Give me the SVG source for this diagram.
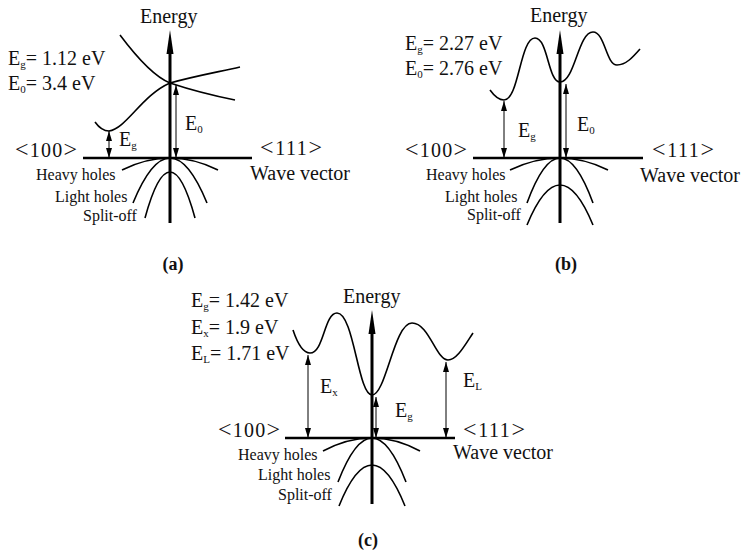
<svg xmlns="http://www.w3.org/2000/svg" width="743" height="553" viewBox="0 0 743 553">
<style>
text{font-family:"Liberation Serif","Times New Roman",serif;fill:#111}
.t{font-size:20px}
.s{font-size:16px}
.sub{font-size:11px}
.br{font-size:24px}
.cap{font-size:18px;font-weight:bold;text-anchor:middle}
.axis{stroke:#000;stroke-width:2.6;fill:none}
.vaxis{stroke:#000;stroke-width:3;fill:none}
.band{stroke:#000;stroke-width:1.6;fill:none}
.gap{stroke:#000;stroke-width:1;fill:none;marker-start:url(#ah);marker-end:url(#ah)}
</style>
<defs>
<marker id="ah" viewBox="0 0 10 6" refX="10" refY="3" markerWidth="10" markerHeight="6" markerUnits="userSpaceOnUse" orient="auto-start-reverse">
<path d="M0,0 L10,3 L0,6 Z" fill="#000"/>
</marker>
<path id="vhead" d="M0,0 L-3.5,24 L3.5,24 Z" fill="#000"/>
</defs>

<g id="panel-a">
  <g id="a-axes">
    <line class="axis" x1="83" y1="158" x2="252" y2="158"/>
    <line class="vaxis" x1="170" y1="50" x2="170" y2="223"/>
    <use href="#vhead" x="170" y="30"/>
  </g>
  <g id="a-bands">
    <path class="band" d="M95,122 C100,129 104,131 109,131 C126,129 142,95 170,83 C195,76 218,72 240,67"/>
    <path class="band" d="M120,35 Q150,75 170,83 Q200,93 235,100"/>
    <path class="band" d="M122,170 Q170,146 218,170"/>
    <path class="band" d="M133,203 Q170,113 207,203"/>
    <path class="band" d="M145,218 Q170,126 195,218"/>
  </g>
  <g id="a-text">
    <text class="t" x="140" y="23">Energy</text>
    <text class="t" x="8" y="65">E<tspan class="sub" dy="3">g</tspan><tspan dy="-3">= 1.12 eV</tspan></text>
    <text class="t" x="8" y="90">E<tspan class="sub" dy="3">0</tspan><tspan dy="-3">= 3.4 eV</tspan></text>
    <text class="t" x="185" y="130">E<tspan class="sub" dy="3">0</tspan></text>
    <text class="t" x="119" y="146">E<tspan class="sub" dy="3">g</tspan></text>
    <text class="t" x="15" y="157" textLength="62"><tspan class="br">&lt;</tspan>100<tspan class="br">&gt;</tspan></text>
    <text class="t" x="260" y="155" textLength="62"><tspan class="br">&lt;</tspan>111<tspan class="br">&gt;</tspan></text>
    <text class="t" x="250" y="180">Wave vector</text>
    <text class="s" x="36" y="180">Heavy holes</text>
    <text class="s" x="55" y="202">Light holes</text>
    <text class="s" x="83" y="221">Split-off</text>
    <text class="cap" x="173" y="270">(a)</text>
  </g>
</g>

<g id="panel-b">
  <g id="b-axes">
    <line class="axis" x1="473" y1="158" x2="643" y2="158"/>
    <line class="vaxis" x1="560" y1="50" x2="560" y2="223"/>
    <use href="#vhead" x="560" y="30"/>
  </g>
  <g id="b-bands">
    <path class="band" d="M490,90 C495,97 499,100 504,100 C519,100 520,38 535,38 C548,38 548,82 560,82 C575,82 578,32 593,32 C605,32 606,65 617,65 C626,65 633,57 640,49"/>
    <path class="band" d="M510,170 Q560,146 608,170"/>
    <path class="band" d="M527,203 Q560,113 593,203"/>
    <path class="band" d="M527,225 Q560,145 593,225"/>
  </g>
  <g id="b-text">
    <text class="t" x="530" y="22">Energy</text>
    <text class="t" x="405" y="50">E<tspan class="sub" dy="3">g</tspan><tspan dy="-3">= 2.27 eV</tspan></text>
    <text class="t" x="405" y="75">E<tspan class="sub" dy="3">0</tspan><tspan dy="-3">= 2.76 eV</tspan></text>
    <text class="t" x="518" y="137">E<tspan class="sub" dy="3">g</tspan></text>
    <text class="t" x="577" y="131">E<tspan class="sub" dy="3">0</tspan></text>
    <text class="t" x="405" y="157" textLength="62"><tspan class="br">&lt;</tspan>100<tspan class="br">&gt;</tspan></text>
    <text class="t" x="652" y="157" textLength="62"><tspan class="br">&lt;</tspan>111<tspan class="br">&gt;</tspan></text>
    <text class="t" x="640" y="182">Wave vector</text>
    <text class="s" x="426" y="180">Heavy holes</text>
    <text class="s" x="445" y="202">Light holes</text>
    <text class="s" x="467" y="220">Split-off</text>
    <text class="cap" x="566" y="270">(b)</text>
  </g>
</g>

<g id="panel-c">
  <g id="c-axes">
    <line class="axis" x1="285" y1="438" x2="455" y2="438"/>
    <line class="vaxis" x1="372" y1="330" x2="372" y2="504"/>
    <use href="#vhead" x="372" y="310"/>
  </g>
  <g id="c-bands">
    <path class="band" d="M293,330 C298,345 303,353 310,353 C324,353 324,313 337,313 C354,313 358,395 372,395 C386,395 394,323 412,323 C429,323 436,360 448,360 C457,360 465,345 473,333"/>
    <path class="band" d="M323,451 Q372,425 420,451"/>
    <path class="band" d="M338,482 Q372,394 406,482"/>
    <path class="band" d="M339,506 Q372,424 405,506"/>
  </g>
  <g id="c-text">
    <text class="t" x="343" y="303">Energy</text>
    <text class="t" x="191" y="307">E<tspan class="sub" dy="3">g</tspan><tspan dy="-3">= 1.42 eV</tspan></text>
    <text class="t" x="191" y="334">E<tspan class="sub" dy="3">x</tspan><tspan dy="-3">= 1.9 eV</tspan></text>
    <text class="t" x="191" y="360">E<tspan class="sub" dy="3">L</tspan><tspan dy="-3">= 1.71 eV</tspan></text>
    <text class="t" x="320" y="393">E<tspan class="sub" dy="3">x</tspan></text>
    <text class="t" x="395" y="417">E<tspan class="sub" dy="3">g</tspan></text>
    <text class="t" x="463" y="387">E<tspan class="sub" dy="3">L</tspan></text>
    <text class="t" x="218" y="437" textLength="62"><tspan class="br">&lt;</tspan>100<tspan class="br">&gt;</tspan></text>
    <text class="t" x="463" y="437" textLength="62"><tspan class="br">&lt;</tspan>111<tspan class="br">&gt;</tspan></text>
    <text class="t" x="453" y="459">Wave vector</text>
    <text class="s" x="238" y="460">Heavy holes</text>
    <text class="s" x="258" y="480">Light holes</text>
    <text class="s" x="278" y="500">Split-off</text>
    <text class="cap" x="368" y="546">(c)</text>
  </g>
</g>

<g id="connectors">
  <line class="gap" x1="109" y1="131" x2="109" y2="158"/>
  <line class="gap" x1="176" y1="85" x2="176" y2="158"/>
  <line class="gap" x1="504" y1="101" x2="504" y2="158"/>
  <line class="gap" x1="566" y1="84" x2="566" y2="158"/>
  <line class="gap" x1="308" y1="355" x2="308" y2="438"/>
  <line class="gap" x1="376" y1="397" x2="376" y2="438"/>
  <line class="gap" x1="446" y1="362" x2="446" y2="438"/>
</g>
</svg>
